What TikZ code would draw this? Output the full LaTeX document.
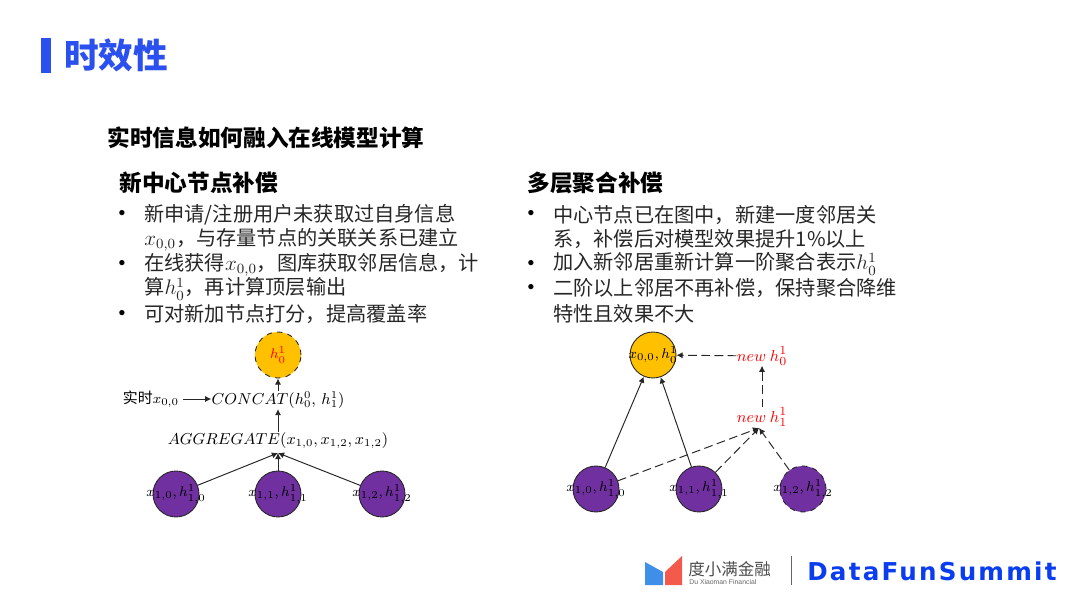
\documentclass[tikz,border=0pt]{standalone}
\usepackage{fontspec}
\usepackage{bm}
\setmainfont{Noto Sans CJK SC}
\newfontfamily\bulletfont{Liberation Sans}
\newfontfamily\footfont{Liberation Sans}
\newfontfamily\summitfont[LetterSpace=9]{DejaVu Sans}
\usetikzlibrary{arrows.meta}
\definecolor{titleblue}{HTML}{2B50F0}
\definecolor{nodeyellow}{HTML}{FFC000}
\definecolor{nodepurple}{HTML}{7030A0}
\definecolor{logoblue}{HTML}{3F8FE8}
\definecolor{logored}{HTML}{F45A4C}
\definecolor{summitblue}{HTML}{0A3CF0}
\newcommand{\nodetext}[1]{\makebox[0pt]{\fontsize{8.5}{11}\selectfont$#1$}}
\tikzset{
	body/.style={anchor=west, inner sep=0pt, font=\fontsize{11.5}{13}\selectfont, text=black!85},
	head/.style={anchor=west, inner sep=0pt, font=\fontsize{12.9}{15}\bfseries\selectfont},
	dot/.style={inner sep=0pt, font=\bulletfont\fontsize{11}{13}\selectfont},
	circ/.style={circle, draw=black!85, line width=0.5pt, minimum size=0.92cm, inner sep=0pt},
	top/.style={circ, fill=nodeyellow},
	leaf/.style={circ, fill=nodepurple},
	formula/.style={inner sep=0pt, font=\fontsize{9}{12}\selectfont},
	newlabel/.style={formula, font=\fontsize{9.5}{12}\selectfont, text=red},
	link/.style={-{Latex[length=3.5pt,width=3.5pt]}, line width=0.55pt, black!85},
	dashlink/.style={link, dash pattern=on 5pt off 2.5pt}
}
\begin{document}
\begin{tikzpicture}[x=0.02cm, y=-0.02cm]
	\useasboundingbox (0, 0) rectangle (1080, 608);
	% title
	\fill [titleblue] (41, 38) rectangle (51, 73);
	\node [anchor=west, inner sep=0pt, text=titleblue, font=\fontsize{19.7}{22}\bfseries\selectfont] (title) at (64, 55) {时效性};
	\node [head] (subtitle) at (107, 138) {实时信息如何融入在线模型计算};
	% left column
	\node [head] (headL) at (119, 183) {新中心节点补偿};
	\node [dot] (dotLa) at (122, 215) {•};
	\node [body] (lineLa) at (144, 214.5) {新申请/注册用户未获取过自身信息};
	\node [body] (lineLb) at (144, 239.5) {$x_{0{,}0}$，与存量节点的关联关系已建立};
	\node [dot] (dotLb) at (122, 265) {•};
	\node [body] (lineLc) at (144, 265) {在线获得$x_{0{,}0}$，图库获取邻居信息，计};
	\node [body] (lineLd) at (144, 289) {算$h_0^1$，再计算顶层输出};
	\node [dot] (dotLc) at (122, 315) {•};
	\node [body] (lineLe) at (144, 314.5) {可对新加节点打分，提高覆盖率};
	% right column
	\node [head] (headR) at (527, 183) {多层聚合补偿};
	\node [dot] (dotRa) at (531, 215) {•};
	\node [body] (lineRa) at (553, 215) {中心节点已在图中，新建一度邻居关};
	\node [body] (lineRb) at (553, 239.5) {系，补偿后对模型效果提升1\%以上};
	\node [dot] (dotRb) at (531, 265) {•};
	\node [body] (lineRc) at (553, 264) {加入新邻居重新计算一阶聚合表示$h_0^1$};
	\node [dot] (dotRc) at (531, 289) {•};
	\node [body] (lineRd) at (553, 288) {二阶以上邻居不再补偿，保持聚合降维};
	\node [body] (lineRe) at (553, 313.5) {特性且效果不大};
	% left graph
	\node [top, dashed] (rootL) at (278, 355) {\nodetext{\textcolor{red}{h_0^1}}};
	\node [formula] (concat) at (278, 400) {$CONCAT(h_0^0,\, h_1^1)$};
	\node [formula, font=\fontsize{8.5}{10}\selectfont] (realtime) at (151, 399) {实时$x_{0{,}0}$};
	\node [formula] (aggregate) at (278, 441) {$AGGREGATE(x_{1{,}0},x_{1{,}2},x_{1{,}2})$};
	\node [leaf] (leafLa) at (176, 494) {\nodetext{x_{1{,}0},h_{1{,}0}^1}};
	\node [leaf] (leafLb) at (278, 494) {\nodetext{x_{1{,}1},h_{1{,}1}^1}};
	\node [leaf] (leafLc) at (382, 494) {\nodetext{x_{1{,}2},h_{1{,}2}^1}};
	\coordinate (mergeL) at (278, 453);
	\draw [link] (leafLa) -- (mergeL);
	\draw [link] (leafLb) -- (mergeL);
	\draw [link] (leafLc) -- (mergeL);
	\draw [link] (aggregate.north -| concat) ++(0, -1) -- (concat.south);
	\draw [link] (concat.north) -- (rootL.south);
	\draw [link] (realtime.east) ++(4, 0) -- (concat.west |- realtime);
	% right graph
	\node [top] (rootR) at (653, 355) {\nodetext{x_{0{,}0},h_0^1}};
	\node [newlabel] (newtop) at (762, 356) {$new\ h_0^1$};
	\node [newlabel] (newmid) at (762, 417) {$new\ h_1^1$};
	\node [leaf] (leafRa) at (596, 489) {\nodetext{x_{1{,}0},h_{1{,}0}^1}};
	\node [leaf] (leafRb) at (699, 489) {\nodetext{x_{1{,}1},h_{1{,}1}^1}};
	\node [leaf, dashed] (leafRc) at (803, 489) {\nodetext{x_{1{,}2},h_{1{,}2}^1}};
	\coordinate (mergeR) at (759, 428);
	\draw [link] (leafRa) -- (rootR);
	\draw [link] (leafRb) -- (rootR);
	\draw [dashlink] (leafRa) -- (mergeR);
	\draw [dashlink] (leafRb) -- (mergeR);
	\draw [dashlink] (leafRc) -- (mergeR);
	\draw [dashlink] (newmid) -- (newtop);
	\draw [dashlink] (newtop) -- (rootR);
	% footer
	\fill [logoblue] (645, 562) -- (663, 572) -- (663, 585) -- (645, 585) -- cycle;
	\fill [logored] (665, 572) -- (682, 556) -- (682, 585) -- (665, 585) -- cycle;
	\node [anchor=west, inner sep=0pt, text=black!70, font=\fontsize{9.4}{11}\selectfont] (logotext) at (688, 569) {度小满金融};
	\node [anchor=west, inner sep=0pt, text=black!60, font=\footfont\fontsize{3.9}{5}\selectfont] (logosub) at (689, 582) {Du Xiaoman Financial};
	\fill [black!60] (790.5, 556) rectangle (791.8, 585);
	\node [anchor=west, inner sep=0pt, text=summitblue, font=\summitfont\fontsize{14}{16}\bfseries\selectfont] (summit) at (807, 571) {DataFunSummit};
\end{tikzpicture}
\end{document}
